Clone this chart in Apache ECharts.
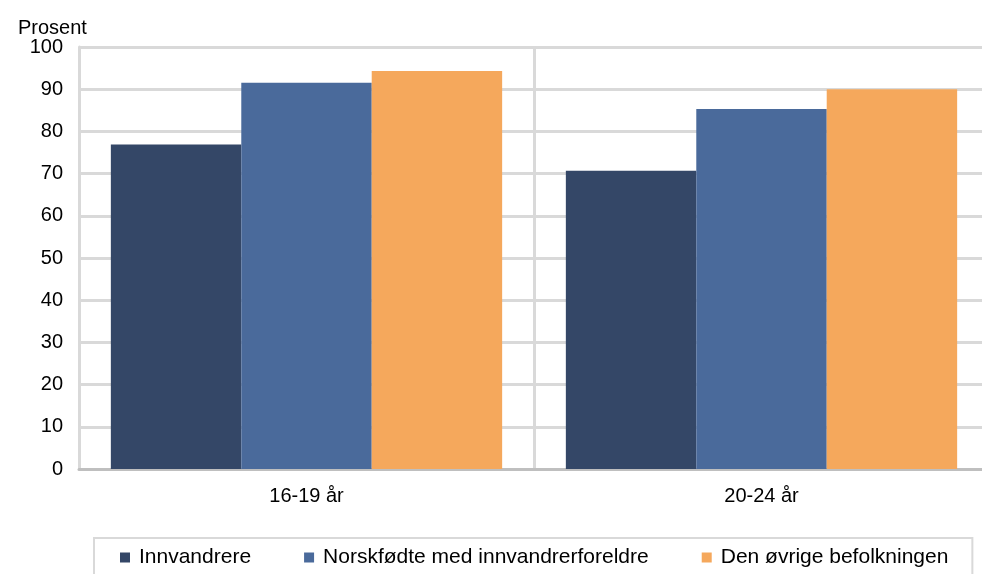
<!DOCTYPE html>
<html>
<head>
<meta charset="utf-8">
<script src="https://cdn.jsdelivr.net/npm/echarts@6/dist/echarts.min.js"></script>
<style>
  html, body { margin: 0; padding: 0; background: #fff; }
  #chart { width: 982px; height: 574px; }
</style>
</head>
<body>
<div id="chart"></div>
<script>
const categories = ["16-19 år", "20-24 år"];
const seriesNames = ["Innvandrere", "Norskfødte med innvandrerforeldre", "Den øvrige befolkningen"];
const innvandrere = [76.9, 70.7];
const norskfodte = [91.5, 85.3];
const ovrige = [94.3, 90.0];
const colors = ["#344767", "#4a6a9b", "#f5a85c"];

const chart = echarts.init(document.getElementById("chart"));
const font = "Liberation Sans, Arial, sans-serif";

chart.setOption({
  animation: false,
  backgroundColor: "#fff",
  color: colors,
  textStyle: { fontFamily: font },
  title: {
    text: "Prosent",
    left: 18,
    top: 18,
    padding: 0,
    textStyle: { fontFamily: font, fontSize: 20, fontWeight: "normal", color: "#000" },
  },
  // plot runs off the right edge of the canvas, like the reference
  grid: { left: 79, width: 910, top: 47, bottom: 105, containLabel: false, outerBoundsMode: "none" },
  legend: {
    left: 94,
    top: 538,
    padding: [9, 24, 20, 26],
    itemWidth: 10,
    itemHeight: 10,
    itemGap: 53,
    icon: "rect",
    borderColor: "#d9d9d9",
    borderWidth: 2,
    textStyle: { fontFamily: font, fontSize: 21, color: "#000", padding: [0, 0, 0, 4] },
    data: seriesNames,
  },
  xAxis: {
    type: "category",
    data: categories,
    axisTick: { show: false },
    axisLine: { lineStyle: { color: "#bfbfbf", width: 3 } },
    axisLabel: { color: "#000", fontSize: 20, fontFamily: font, margin: 17 },
    splitLine: { show: true, interval: 0, lineStyle: { color: "#d9d9d9", width: 3 } },
  },
  yAxis: {
    type: "value",
    min: 0,
    max: 100,
    interval: 10,
    axisLine: { show: true, lineStyle: { color: "#d9d9d9", width: 3 } },
    axisTick: { show: false },
    axisLabel: { color: "#000", fontSize: 20, fontFamily: font, margin: 16 },
    splitLine: { lineStyle: { color: "#d9d9d9", width: 3 } },
  },
  series: [
    { name: seriesNames[0], type: "bar", data: innvandrere, barGap: "0%", barCategoryGap: "14%" },
    { name: seriesNames[1], type: "bar", data: norskfodte, barGap: "0%", barCategoryGap: "14%" },
    { name: seriesNames[2], type: "bar", data: ovrige, barGap: "0%", barCategoryGap: "14%" },
  ],
});
</script>
</body>
</html>
